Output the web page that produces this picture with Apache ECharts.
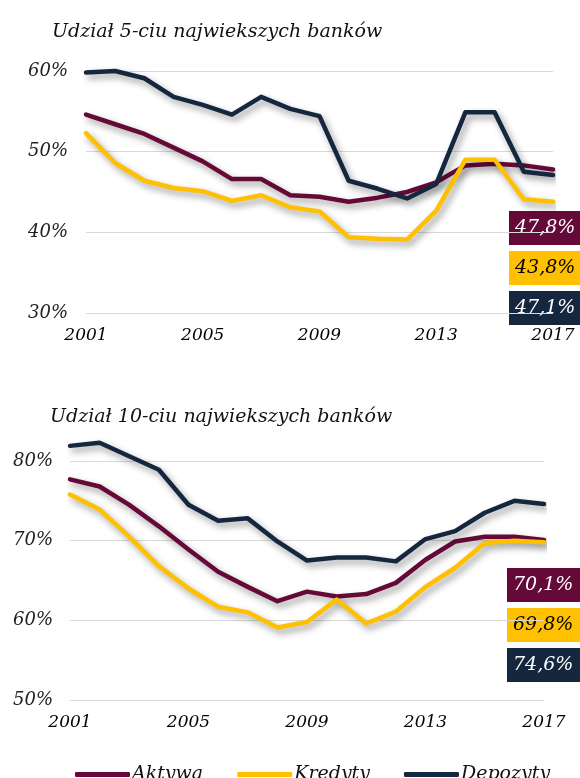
<!DOCTYPE html>
<html>
<head>
<meta charset="utf-8">
<script src="https://cdn.jsdelivr.net/npm/echarts@6/dist/echarts.min.js"></script>
<style>
  html, body { margin: 0; padding: 0; background: #fff; }
  #chart { width: 580px; height: 778px; }
</style>
</head>
<body>
<div id="chart"></div>
<script>
var years = ['2001', '2002', '2003', '2004', '2005', '2006', '2007', '2008', '2009',
             '2010', '2011', '2012', '2013', '2014', '2015', '2016', '2017'];

// udzial 5-ciu najwiekszych bankow (%)
var aktywa5   = [54.6, 53.4, 52.2, 50.5, 48.8, 46.6, 46.6, 44.6, 44.4, 43.8, 44.3, 45.0, 46.2, 48.3, 48.5, 48.3, 47.8];
var kredyty5  = [52.3, 48.6, 46.4, 45.5, 45.1, 43.9, 44.6, 43.1, 42.6, 39.4, 39.2, 39.1, 42.7, 49.0, 49.0, 44.1, 43.8];
var depozyty5 = [59.8, 60.0, 59.1, 56.8, 55.8, 54.6, 56.8, 55.3, 54.4, 46.4, 45.4, 44.2, 46.0, 54.9, 54.9, 47.5, 47.1];

// udzial 10-ciu najwiekszych bankow (%)
var aktywa10   = [77.7, 76.8, 74.5, 71.8, 68.9, 66.1, 64.2, 62.4, 63.6, 63.0, 63.3, 64.7, 67.6, 69.9, 70.5, 70.5, 70.1];
var kredyty10  = [75.8, 73.9, 70.5, 66.8, 64.0, 61.7, 61.0, 59.1, 59.8, 62.6, 59.6, 61.1, 64.2, 66.6, 69.7, 70.0, 69.8];
var depozyty10 = [81.9, 82.3, 80.6, 78.9, 74.5, 72.5, 72.8, 69.9, 67.5, 67.9, 67.9, 67.4, 70.2, 71.2, 73.5, 75.0, 74.6];

var ticks5 = [30, 40, 50, 60];
var ticks10 = [50, 60, 70, 80];

var names = ['Aktywa', 'Kredyty', 'Depozyty'];
var colors = ['#650a38', '#ffc000', '#15263f'];
var boxText = ['#ffffff', '#000000', '#ffffff'];

var font = 'DejaVu Serif';

function pct(v) {
    return v.toFixed(1).replace('.', ',') + '%';
}

var dom = document.getElementById('chart');
var myChart = echarts.init(dom, null, { renderer: 'canvas' });

function lineSeries(name, data, idx, color) {
    return {
        name: name,
        type: 'line',
        xAxisIndex: idx,
        yAxisIndex: idx,
        data: data,
        symbol: 'none',
        clip: false,
        lineStyle: {
            color: color,
            width: 4.5,
            cap: 'round',
            join: 'round',
            shadowColor: 'rgba(0,0,0,0.4)',
            shadowBlur: 7,
            shadowOffsetX: 3,
            shadowOffsetY: 4
        },
        itemStyle: { color: color }
    };
}

function xAxisOf(idx) {
    return {
        type: 'category',
        gridIndex: idx,
        data: years,
        boundaryGap: false,
        axisLine: { show: false },
        axisTick: { show: false },
        axisLabel: {
            interval: 3,
            margin: 14,
            color: '#000',
            fontFamily: font,
            fontStyle: 'italic',
            fontSize: 17
        }
    };
}

function yAxisOf(idx, ticks, margin) {
    return {
        type: 'value',
        gridIndex: idx,
        min: ticks[0],
        max: ticks[ticks.length - 1],
        interval: ticks[1] - ticks[0],
        axisLine: { show: false },
        axisTick: { show: false },
        splitLine: { lineStyle: { color: '#d9d9d9', width: 1 } },
        axisLabel: {
            margin: margin,
            formatter: '{value}%',
            color: '#222',
            fontFamily: font,
            fontStyle: 'italic',
            fontSize: 18
        }
    };
}

// ramki z ostatnia wartoscia
function boxes(top, left, lastVals) {
    var out = [];
    lastVals.forEach(function (v, i) {
        out.push({
            type: 'group',
            left: left,
            top: top + i * 40,
            children: [
                { type: 'rect', shape: { x: 0, y: 0, width: 80, height: 34 }, style: { fill: colors[i] } },
                { type: 'text', x: 6, y: 17, style: {
                    text: pct(v), fill: boxText[i], font: 'italic 19px "' + font + '"',
                    textVerticalAlign: 'middle', verticalAlign: 'middle'
                } }
            ]
        });
    });
    return out;
}

var series5 = [aktywa5, kredyty5, depozyty5];
var series10 = [aktywa10, kredyty10, depozyty10];

var option = {
    animation: false,
    backgroundColor: '#fff',
    title: [
        { text: 'Udział 5-ciu najwiekszych banków', left: 47, top: 18,
          textStyle: { fontFamily: font, fontStyle: 'italic', fontWeight: 'normal', fontSize: 19, color: '#111' } },
        { text: 'Udział 10-ciu najwiekszych banków', left: 45, top: 403,
          textStyle: { fontFamily: font, fontStyle: 'italic', fontWeight: 'normal', fontSize: 19, color: '#111' } }
    ],
    legend: {
        data: names,
        left: 70,
        top: 760,
        icon: 'roundRect',
        itemWidth: 55,
        itemHeight: 5,
        itemGap: 34,
        textStyle: { fontFamily: font, fontStyle: 'italic', fontSize: 19, color: '#111', padding: [0, 0, 0, -3] }
    },
    grid: [
        { left: 86, right: 27, top: 71, height: 242 },
        { left: 70, right: 36, top: 461, height: 239 }
    ],
    xAxis: [xAxisOf(0), xAxisOf(1)],
    yAxis: [yAxisOf(0, ticks5, 18), yAxisOf(1, ticks10, 17)],
    series: [],
    graphic: boxes(211, 509, series5.map(function (s) { return s[s.length - 1]; }))
        .concat(boxes(568, 507, series10.map(function (s) { return s[s.length - 1]; })))
};

names.forEach(function (n, i) {
    option.series.push(lineSeries(n, series5[i], 0, colors[i]));
});
names.forEach(function (n, i) {
    option.series.push(lineSeries(n, series10[i], 1, colors[i]));
});

if (option && typeof option === 'object') {
    myChart.setOption(option);
}
</script>
</body>
</html>
